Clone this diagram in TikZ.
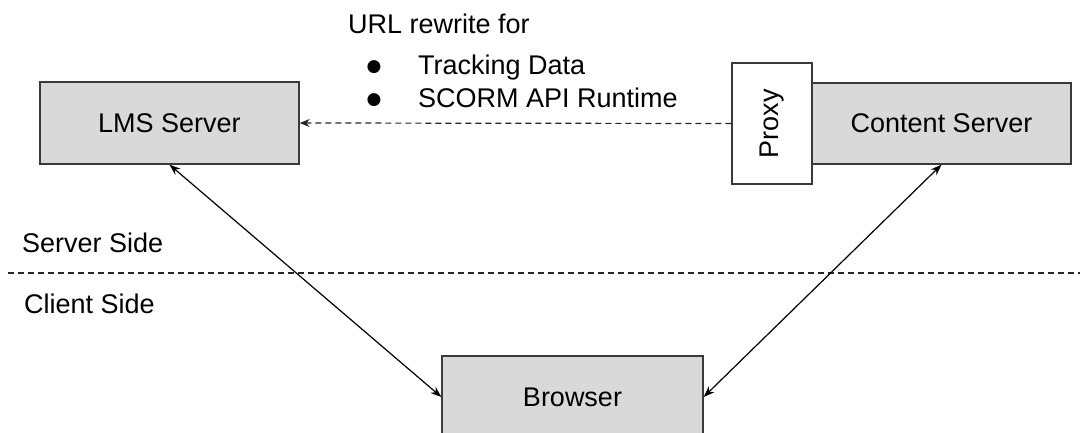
\documentclass[tikz,border=0pt]{standalone}
\usepackage{fontspec}
\setmainfont{Liberation Sans}
\newfontfamily\symfont{DejaVu Sans}
\usetikzlibrary{arrows.meta}
\definecolor{boxfill}{HTML}{D9D9D9}
\definecolor{boxline}{HTML}{3A3A3A}
\tikzset{
  sbox/.style={draw=boxline, line width=1.3pt, fill=boxfill, inner sep=0pt, font=\fontsize{27}{31}\selectfont},
  pbox/.style={draw=boxline, line width=1.3pt, fill=white, inner sep=0pt, font=\fontsize{27}{31}\selectfont},
  lbl/.style={inner sep=0pt, anchor=base west, font=\fontsize{27}{31}\selectfont},
  bul/.style={inner sep=0pt, anchor=center, font=\symfont\fontsize{17}{20}\selectfont},
  conn/.style={line width=1.2pt, black, {Stealth[length=11pt,width=8pt]}-{Stealth[length=11pt,width=8pt]}},
  dconn/.style={line width=1.2pt, black!85, dash pattern=on 6pt off 4pt, -{Stealth[length=10pt,width=8pt]}},
  divider/.style={line width=1.2pt, black!85, dash pattern=on 6pt off 4pt}
}
\begin{document}
\begin{tikzpicture}[x=1pt,y=-1pt]
\useasboundingbox (0,0) rectangle (1085,432);
\node[sbox, minimum width=259pt, minimum height=82pt] (lms) at (169.5,123) {LMS Server};
\node[sbox, minimum width=259pt, minimum height=81pt] (cs) at (941.5,123.5) {Content Server};
\node[pbox, minimum width=80pt, minimum height=121pt] (proxy) at (772,123.5) {\rotatebox{90}{Proxy}};
\node[sbox, minimum width=261pt, minimum height=82pt] (browser) at (572.5,397) {Browser};
\node[lbl] (t1) at (348,33) {URL rewrite for};
\node[bul] (b1) at (374,67) {●};
\node[lbl] (t2) at (418,74) {Tracking Data};
\node[bul] (b2) at (374,100) {●};
\node[lbl] (t3) at (418,107) {SCORM API Runtime};
\node[lbl] (ss) at (22,252) {Server Side};
\node[lbl] (cl) at (24,313) {Client Side};
\coordinate (dl) at (8,273);
\coordinate (dr) at (1080,273);
\draw[divider] (dl) -- (dr);
\draw[dconn] (proxy.west) -- (lms.east);
\draw[conn] (lms.south) -- (browser.west);
\draw[conn] (cs.south) -- (browser.east);
\end{tikzpicture}
\end{document}
